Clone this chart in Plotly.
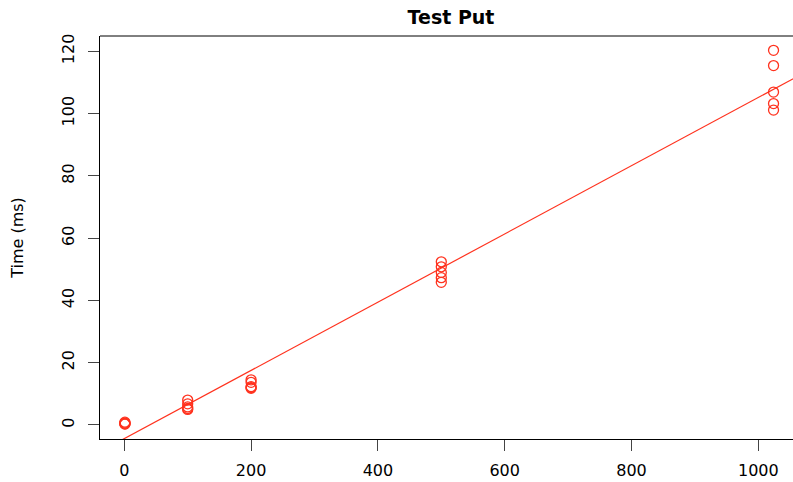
import numpy as np
import plotly.graph_objects as go

# Data
sizes = [1]*5 + [100]*5 + [200]*5 + [500]*5 + [1024]*5
times = [0.9, 0.6, 0.5, 0.4, 0.3,
         8.0, 6.8, 5.8, 5.3, 5.0,
         14.5, 13.7, 12.3, 11.8, 12.0,
         52.4, 50.8, 49.0, 47.3, 45.8,
         120.3, 115.4, 106.9, 103.2, 101.1]
x_ticks = [0, 200, 400, 600, 800, 1000]
y_ticks = [0, 20, 40, 60, 80, 100, 120]
x_range = [-38.3, 1054.7]
y_range = [-4.5, 124.9]

red = "rgb(255,50,30)"
font = "DejaVu Sans, Arial, sans-serif"

slope, intercept = np.polyfit(sizes, times, 1)
line_x = np.array([x_range[0] - 50, x_range[1] + 50])
line_y = intercept + slope * line_x

fig = go.Figure()
fig.add_trace(go.Scatter(x=sizes, y=times, mode="markers",
                         marker=dict(symbol="circle-open", size=10,
                                     color=red, line=dict(width=1.3, color=red)),
                         showlegend=False))
fig.add_trace(go.Scatter(x=line_x, y=line_y, mode="lines",
                         line=dict(color=red, width=1.2), showlegend=False))

W, H = 793, 482
fig.update_layout(
    width=W, height=H,
    margin=dict(l=100, r=0, t=36, b=43, autoexpand=False),
    paper_bgcolor="white", plot_bgcolor="white",
    font=dict(family=font, size=16, color="black"),
    title=dict(text="<b>Test Put</b>", x=451 / W, xanchor="center",
               y=1 - 17 / H, yanchor="middle", yref="container",
               font=dict(family=font, size=19, color="black")),
    xaxis=dict(range=x_range, tickvals=x_ticks, ticks="outside", ticklen=11,
               tickcolor="#444", showgrid=False, zeroline=False,
               showline=True, linecolor="black", linewidth=1, automargin=False,
               ticklabelstandoff=6, tickfont=dict(size=16)),
    yaxis=dict(range=y_range, tickvals=y_ticks, ticks="outside", ticklen=11,
               tickcolor="#444", showgrid=False, zeroline=False,
               showline=True, linecolor="black", linewidth=1, automargin=False,
               tickangle=-90, ticklabelstandoff=8, tickfont=dict(size=16),
               title=dict(text="Time (ms)", standoff=30, font=dict(size=16))),
    shapes=[dict(type="line", xref="paper", yref="paper", x0=0, x1=1, y0=1, y1=1,
                 line=dict(color="black", width=1))],
)

# remove the default 8px page margin so the figure fills the window exactly
fig.write_html("out.html", config={"displayModeBar": False}, post_script=(
    "document.body.style.margin='0';"
    "document.body.style.overflow='hidden';"
    "document.documentElement.style.overflow='hidden';"))
